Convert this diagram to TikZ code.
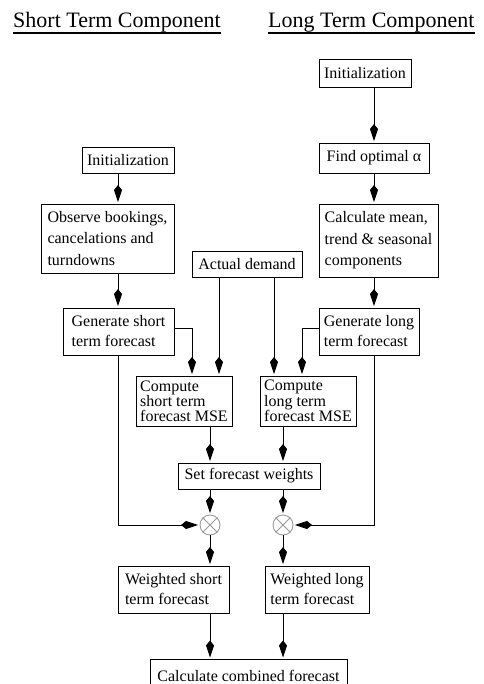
\documentclass[tikz,border=0pt]{standalone}
\usepackage{fontspec}
\setmainfont{Liberation Serif}
\usetikzlibrary{arrows.meta}
\begin{document}
\begin{tikzpicture}[x=1pt,y=-1pt,
  box/.style={draw, line width=0.9pt, inner xsep=2pt, inner ysep=2pt, align=left, font=\fontsize{16}{20}\selectfont},
  arr/.style={line width=0.9pt, -{Kite[length=17pt,width=8pt,inset=5pt]}, shorten >=1.5pt},
  head/.style={font=\fontsize{22}{26}\selectfont, inner sep=0pt, anchor=base west},
  uline/.style={line width=1.1pt},
  mult/.style={circle, draw=gray!80, line width=0.9pt, minimum size=20pt, inner sep=0pt},
  cross/.style={draw=gray!80, line width=0.9pt}
]
\useasboundingbox (0,0) rectangle (483,684);
\clip (0,0) rectangle (483,684);

% headings
\node[head] (hS) at (13,28) {Short Term Component};
\node[head] (hL) at (268,28) {Long Term Component};
\draw[uline] (hS.base west) ++(0,5) coordinate (uS1) -- (uS1 -| hS.east);
\draw[uline] (hL.base west) ++(0,5) coordinate (uL1) -- (uL1 -| hL.east);

% columns
\coordinate (cS) at (118,0);
\coordinate (cL) at (374,0);

% long term column
\node[box, minimum width=92pt, minimum height=28pt] (initL) at (365,73) {Initialization};
\node[box, minimum width=110pt, minimum height=30pt] (alpha) at (374,158) {Find optimal α};
\node[box, minimum width=119pt, minimum height=73pt, font=\fontsize{16}{21.5}\selectfont] (calc) at (378.5,240.5) {Calculate mean,\\trend \& seasonal\\components};
\node[box, minimum width=100pt, minimum height=47pt] (genL) at (369,331.5) {Generate long\\term forecast};

% short term column
\node[box, minimum width=92pt, minimum height=26pt] (initS) at (128,160) {Initialization};
\node[box, minimum width=133pt, minimum height=69pt, font=\fontsize{16}{21.5}\selectfont] (obs) at (107.5,238.5) {Observe bookings,\\cancelations and\\turndowns};
\node[box, minimum width=111pt, minimum height=47pt] (genS) at (118.5,331.5) {Generate short\\term forecast};

% middle
\node[box, minimum width=110pt, minimum height=26pt] (actual) at (247,264) {Actual demand};
\node[box, minimum width=96pt, minimum height=50pt, font=\fontsize{16}{14.5}\selectfont] (cmpS) at (184,401) {Compute\\short term\\forecast MSE};
\node[box, minimum width=96pt, minimum height=50pt, font=\fontsize{16}{14.5}\selectfont] (cmpL) at (308,401) {Compute\\long term\\forecast MSE};
\node[box, minimum width=142pt, minimum height=26pt] (setw) at (249,476) {Set forecast weights};

\node[mult] (oxS) at (210,525) {};
\node[mult] (oxL) at (283,525) {};
\draw[cross] (oxS.north east) -- (oxS.south west) (oxS.north west) -- (oxS.south east);
\draw[cross] (oxL.north east) -- (oxL.south west) (oxL.north west) -- (oxL.south east);

\node[box, minimum width=111pt, minimum height=47pt] (wS) at (173.5,589.5) {Weighted short\\term forecast};
\node[box, minimum width=104pt, minimum height=47pt] (wL) at (317,589.5) {Weighted long\\term forecast};
\node[box, minimum width=197pt, minimum height=32pt, anchor=north] (comb) at (248.5,659) {Calculate combined forecast};

% connectors
\draw[arr] (initL.south -| cL) -- (alpha.north -| cL);
\draw[arr] (alpha.south -| cL) -- (calc.north -| cL);
\draw[arr] (calc.south -| cL) -- (genL.north -| cL);
\draw[arr] (initS.south -| cS) -- (obs.north -| cS);
\draw[arr] (obs.south -| cS) -- (genS.north -| cS);
\draw[arr] ([yshift=3.5pt]genS.east) -| ([xshift=8pt]cmpS.north);
\draw[arr] ([xshift=-28pt]actual.south) -- ([xshift=-28pt]actual.south |- cmpS.north);
\draw[arr] ([xshift=27pt]actual.south) -- ([xshift=27pt]actual.south |- cmpL.north);
\draw[arr] ([yshift=3.5pt]genL.west) -| ([xshift=-6pt]cmpL.north);
\draw[arr] (cmpS.south -| oxS) -- (setw.north -| oxS);
\draw[arr] (cmpL.south -| oxL) -- (setw.north -| oxL);
\draw[arr] (setw.south -| oxS) -- (oxS.north);
\draw[arr] (setw.south -| oxL) -- (oxL.north);
\draw[arr] (oxS.south) -- (wS.north -| oxS);
\draw[arr] (oxL.south) -- (wL.north -| oxL);
\draw[arr] (wS.south -| oxS) -- (comb.north -| oxS);
\draw[arr] (wL.south -| oxL) -- (comb.north -| oxL);
\draw[arr] (genS.south -| cS) |- (oxS.west);
\draw[arr] (genL.south -| cL) |- (oxL.east);
\end{tikzpicture}
\end{document}
